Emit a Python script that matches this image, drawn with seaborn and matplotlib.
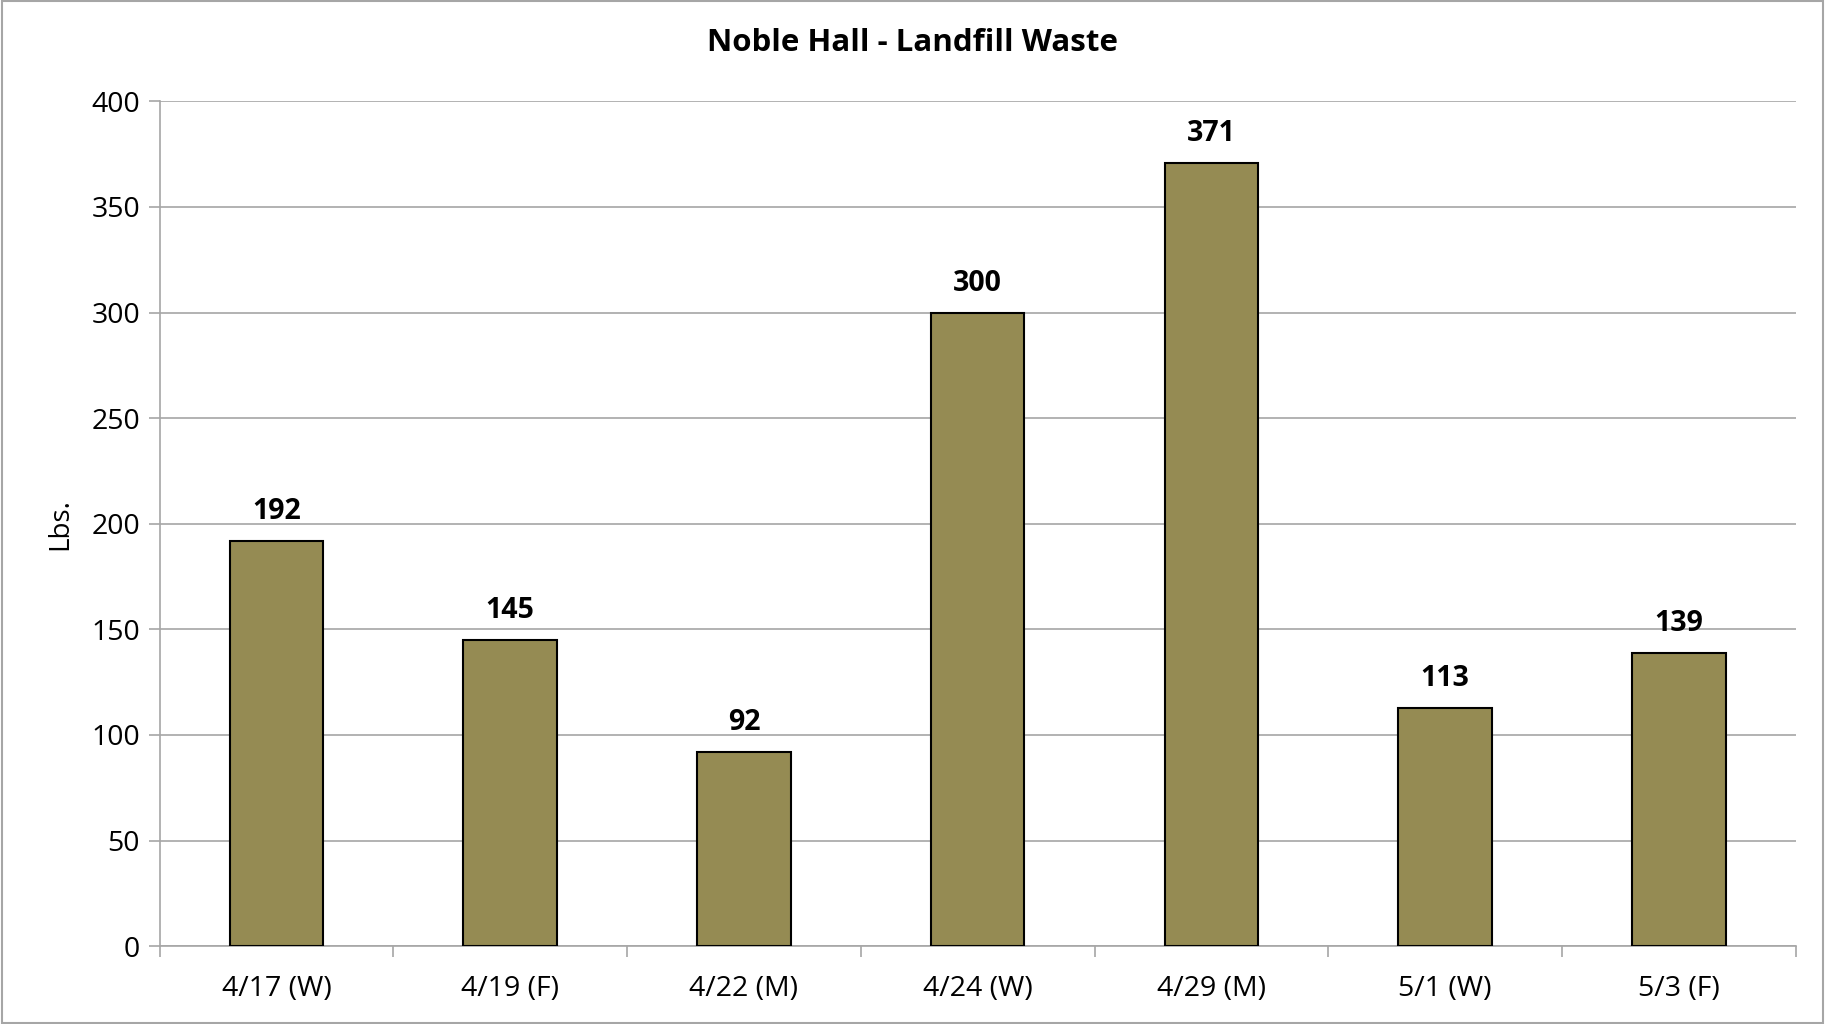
import matplotlib
matplotlib.use("Agg")
import matplotlib.pyplot as plt
import seaborn as sns
import pandas as pd

dates = ["4/17 (W)", "4/19 (F)", "4/22 (M)", "4/24 (W)", "4/29 (M)", "5/1 (W)", "5/3 (F)"]
lbs = [192, 145, 92, 300, 371, 113, 139]
y_ticks = [0, 50, 100, 150, 200, 250, 300, 350, 400]

sns.set_theme(style="white")
plt.rcParams['font.family'] = ['Open Sans', 'DejaVu Sans']
plt.rcParams['text.color'] = 'black'
plt.rcParams['axes.labelcolor'] = 'black'
plt.rcParams['xtick.color'] = 'black'
plt.rcParams['ytick.color'] = 'black'

df = pd.DataFrame({"Date": dates, "Lbs": lbs})

fig = plt.figure(figsize=(18.25, 10.24), dpi=100)
ax = fig.add_axes([0.0874, 0.076, 0.8966, 0.825])

sns.barplot(data=df, x="Date", y="Lbs", color="#958B53", width=0.4,
            edgecolor="black", linewidth=1.5, saturation=1, ax=ax, zorder=3)

# value labels above bars
for i, v in enumerate(lbs):
    ax.text(i, v + 7, str(v), ha="center", va="bottom", fontsize=20.5, fontweight="bold")

ax.set_ylim(0, 400)
ax.set_xlim(-0.5, len(dates) - 0.5)
ax.set_yticks(y_ticks)
ax.yaxis.grid(True, color="#A6A6A6", linewidth=1.2, zorder=0)
ax.set_axisbelow(True)

# title is centred on the whole figure, not the axes
fig.suptitle("Noble Hall - Landfill Waste", x=0.5, y=0.958, va="center",
             fontsize=22.5, fontweight="bold")
ax.set_ylabel("Lbs.", fontsize=20, labelpad=12)
ax.set_xlabel("")

for side in ["top", "right"]:
    ax.spines[side].set_visible(False)
for side in ["left", "bottom"]:
    ax.spines[side].set_color("#A6A6A6")
    ax.spines[side].set_linewidth(1.2)

# category boundary ticks on the x axis
ax.set_xticks(range(len(dates)))
ax.set_xticklabels(dates)
ax.set_xticks([i - 0.5 for i in range(len(dates) + 1)], minor=True)
ax.tick_params(axis="x", which="major", length=0, labelsize=20.5, pad=21)
ax.tick_params(axis="x", which="minor", length=8, color="#A6A6A6", width=1.2, direction="out", bottom=True)
ax.tick_params(axis="y", length=8, color="#A6A6A6", width=1.2, direction="out", labelsize=20.5, left=True, pad=6)

# outer frame around the figure
fig.patches.append(plt.Rectangle((0.001, 0.001), 0.998, 0.998, transform=fig.transFigure,
                                 fill=False, edgecolor="#A6A6A6", linewidth=1.5))

fig.savefig("out.png", dpi=100)
